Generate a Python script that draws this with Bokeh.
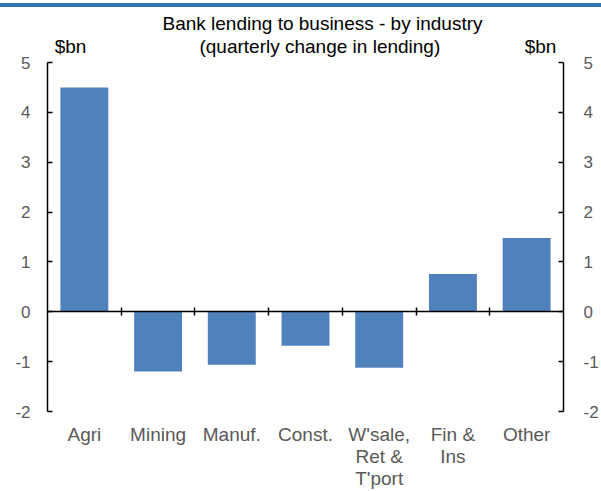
from bokeh.plotting import figure
from bokeh.models import (Range1d, LinearAxis, FixedTicker, ColumnDataSource)
from bokeh.embed import file_html
from bokeh.resources import INLINE

categories = ["Agri", "Mining", "Manuf.", "Const.", "W'sale,\nRet &\nT'port", "Fin &\nIns", "Other"]
values = [4.5, -1.2, -1.06, -0.68, -1.12, 0.76, 1.48]
y_ticks = [-2, -1, 0, 1, 2, 3, 4, 5]
title_lines = ["Bank lending to business - by industry", "(quarterly  change in lending)"]
unit = "$bn"

FONT = "Liberation Sans"
GRAY = "#595959"

css = (":host { background: linear-gradient(to bottom, #ffffff 0px, #ffffff 3px, #2E75B6 3px, "
       "#2E75B6 7px, #ffffff 7px, #ffffff 100%); }")

p = figure(width=601, height=491, output_backend="svg", toolbar_location=None,
           x_range=Range1d(0, len(categories)), y_range=Range1d(-2, 5),
           min_border_left=47, min_border_right=38, min_border_top=62, min_border_bottom=79,
           border_fill_color=None, background_fill_color=None, stylesheets=[css])
p.outline_line_color = None
p.xaxis.visible = False
p.yaxis.visible = False
p.grid.visible = False
p.extra_x_ranges = {"cats": Range1d(-0.5, len(categories) - 0.5), "hdr": Range1d(0, 516)}

src = ColumnDataSource(dict(x=[i + 0.5 for i in range(len(categories))], top=values))
p.vbar(x="x", top="top", bottom=0, width=0.65, source=src, fill_color="#4F81BD", line_color=None)

def style_y(ax, standoff):
    ax.ticker = FixedTicker(ticks=y_ticks)
    ax.major_label_overrides = {t: str(t) for t in y_ticks if t < 0}
    ax.major_tick_in = 5
    ax.major_tick_out = 0
    ax.minor_tick_line_color = None
    ax.axis_line_width = 1.5
    ax.axis_line_color = "#000000"
    ax.major_tick_line_width = 1.5
    ax.major_label_text_font = FONT
    ax.major_label_text_font_size = "17px"
    ax.major_label_text_color = GRAY
    ax.major_label_standoff = standoff

left = LinearAxis()
style_y(left, 17)
p.add_layout(left, "left")
right = LinearAxis()
style_y(right, 20)
p.add_layout(right, "right")

zero = LinearAxis(fixed_location=0, ticker=FixedTicker(ticks=list(range(1, len(categories)))))
zero.major_tick_in = 4
zero.major_tick_out = 4
zero.minor_tick_line_color = None
zero.major_label_text_font_size = "0px"
zero.major_label_text_color = None
zero.major_label_standoff = 0
zero.axis_line_width = 1.5
zero.major_tick_line_width = 1.5
p.add_layout(zero, "above")

hdr = LinearAxis(x_range_name="hdr", ticker=FixedTicker(ticks=[23, 275, 493]))
hdr.major_label_overrides = {23: unit, 275: title_lines[0] + "\n" + title_lines[1], 493: unit}
hdr.axis_line_color = None
hdr.major_tick_line_color = None
hdr.major_tick_in = 0
hdr.major_tick_out = 0
hdr.minor_tick_line_color = None
hdr.major_label_text_font = FONT
hdr.major_label_text_font_size = "19px"
hdr.major_label_text_color = "#000000"
hdr.major_label_text_line_height = 1.05
hdr.major_label_standoff = 6
p.add_layout(hdr, "above")

cat_axis = LinearAxis(x_range_name="cats", ticker=FixedTicker(ticks=list(range(len(categories)))))
cat_axis.major_label_overrides = {i: c for i, c in enumerate(categories)}
cat_axis.axis_line_color = None
cat_axis.major_tick_line_color = None
cat_axis.major_tick_in = 0
cat_axis.major_tick_out = 0
cat_axis.minor_tick_line_color = None
cat_axis.major_label_text_font = FONT
cat_axis.major_label_text_font_size = "19px"
cat_axis.major_label_text_color = GRAY
cat_axis.major_label_standoff = 12
cat_axis.major_label_text_line_height = 1.05
p.add_layout(cat_axis, "below")

open("out.html", "w").write(file_html(p, INLINE))
